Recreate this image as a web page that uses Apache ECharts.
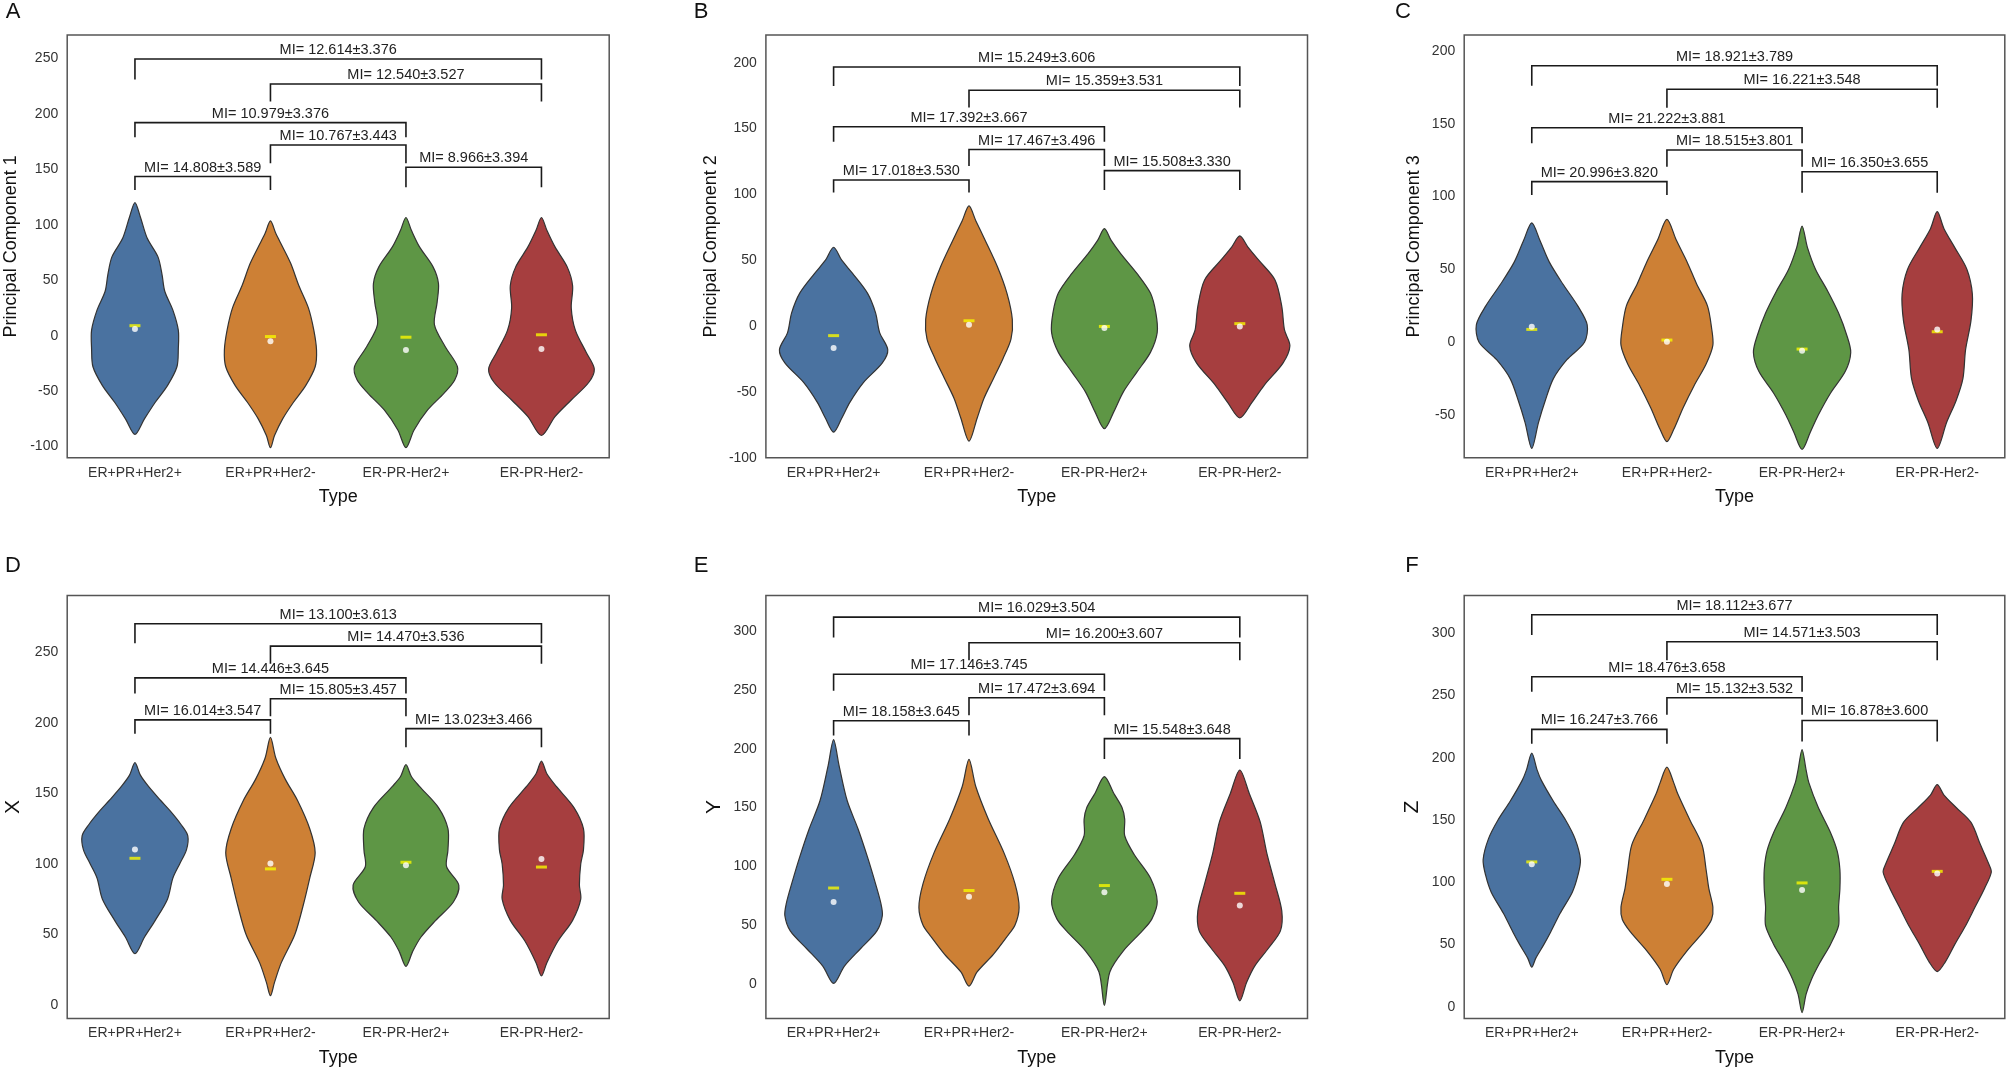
<!DOCTYPE html>
<html><head><meta charset="utf-8">
<script src="https://cdn.jsdelivr.net/npm/echarts@6/dist/echarts.min.js"></script>
<style>html,body{margin:0;padding:0;background:#fff}#c{width:2007px;height:1067px}</style>
</head><body><div id="c"></div>
<script>
// ---------------- DATA ----------------
const categories = ['ER+PR+Her2+', 'ER+PR+Her2-', 'ER-PR-Her2+', 'ER-PR-Her2-'];
const panelLetters = ['A', 'B', 'C', 'D', 'E', 'F'];
const axisTitles = ['Principal Component 1', 'Principal Component 2', 'Principal Component 3', 'X', 'Y', 'Z'];

const ticksPC1 = [-100, -50, 0, 50, 100, 150, 200, 250];
const ticksPC2 = [-100, -50, 0, 50, 100, 150, 200];
const ticksPC3 = [-50, 0, 50, 100, 150, 200];
const ticksX = [0, 50, 100, 150, 200, 250];
const ticksY = [0, 50, 100, 150, 200, 250, 300];
const ticksZ = [0, 50, 100, 150, 200, 250, 300];

const rangePC1 = [-110, 271];
const rangePC2 = [-100, 221];
const rangePC3 = [-79.3, 211];
const rangeX = [-9.7, 290.5];
const rangeY = [-29.7, 330.7];
const rangeZ = [-9.6, 330.4];

// violin outlines: [value, half-width as % of category band], from top tip to bottom tip
const shapePC1 = [
  [[120,0],[107,4],[88,9],[71,17],[55,20],[40,22],[23,28],[5,32],[-12,32],[-28,31],[-45,24],[-60,15],[-75,7],[-89,0]],
  [[103.5,0],[92,4],[80,9],[65,15],[45,21],[25,28],[5,32],[-13,34],[-28,33],[-45,26],[-60,17],[-75,9],[-90,3],[-101,0]],
  [[106.5,0],[95,4],[80,10],[62,20],[47,24],[30,23],[10,21],[-10,29],[-28,38],[-40,36],[-52,28],[-67,16],[-85,6],[-101,0]],
  [[106.5,0],[95,4],[80,10],[62,19],[45,23],[25,22],[5,25],[-15,33],[-30,39],[-42,35],[-58,22],[-73,10],[-90,0]]
];
const shapePC2 = [
  [[59.8,0],[50,6],[40,14],[25,25],[10,31],[-5,34],[-18,40],[-28,36],[-43,22],[-58,12],[-70,6],[-80.6,0]],
  [[91.2,0],[80,5],[65,12],[45,21],[25,28],[5,32],[-10,31],[-25,25],[-40,18],[-55,11],[-70,6],[-87.4,0]],
  [[74,0],[65,5],[55,12],[40,24],[25,34],[10,38],[-5,39],[-20,34],[-35,24],[-50,14],[-65,7],[-78,0]],
  [[68.4,0],[60,6],[50,14],[35,26],[15,31],[-3,33],[-15,37],[-28,32],[-45,18],[-58,9],[-69.7,0]]
];
const shapePC3 = [
  [[82,0],[70,6],[55,13],[40,23],[25,34],[12,41],[0,39],[-12,26],[-25,16],[-40,10],[-55,5],[-72.9,0]],
  [[84.4,0],[70,7],[55,15],[40,22],[25,30],[10,33],[-2,34],[-15,29],[-30,20],[-45,12],[-60,5],[-68.3,0]],
  [[79.8,0],[65,4],[50,10],[35,19],[20,27],[5,33],[-7,36],[-20,32],[-35,21],[-50,12],[-62,6],[-73.6,0]],
  [[89.7,0],[78,5],[65,13],[50,22],[33,26],[15,25],[-5,21],[-25,19],[-40,14],[-55,7],[-72.9,0]]
];
const shapeX = [
  [[171.9,0],[163,4],[155,10],[145,19],[137.6,26],[128,34],[120,39],[110,38],[100,33],[90,28],[75,24],[60,15],[48,7],[36.3,0]],
  [[189.8,0],[175,4],[160,11],[145,20],[125,29],[108,33],[90,29],[70,24],[50,18],[30,8],[16,3],[6.5,0]],
  [[170.4,0],[162,4],[155,10],[140,24],[125,31],[110,31],[98,30],[85,39],[73,35],[60,22],[48,11],[38,5],[27.4,0]],
  [[172.9,0],[164,4],[155,11],[140,24],[125,31],[110,31],[100,29],[85,28],[75,29],[60,23],[45,12],[30,4],[20.6,0]]
];
const shapeY = [
  [[207.8,0],[186,4],[156,10],[132,18],[108,25],[85,31],[68,35],[58,36],[45,32],[30,20],[15,8],[0.3,0]],
  [[191,0],[168,5],[141,14],[111,26],[85,34],[65,37],[50,34],[40,28],[25,18],[10,6],[-2,0]],
  [[176.4,0],[162,7],[150,13],[140,15],[126,15],[110,22],[90,34],[70,39],[55,35],[45,28],[28,14],[10,4],[-18.5,0]],
  [[182,0],[162,7],[138,15],[111,20],[85,26],[62,31],[45,30],[30,21],[15,11],[1,5],[-14.6,0]]
];
const shapeZ = [
  [[203.7,0],[190,4],[182,7],[165,16],[150,25],[135,32],[118,36],[105,34],[92,30],[75,21],[60,14],[50,9],[39,3],[31.8,0]],
  [[192.4,0],[180,5],[171,8],[150,17],[130,26],[110,29],[95,31],[80,34],[70,33],[60,27],[45,15],[30,5],[17.7,0]],
  [[206.5,0],[190,3],[180,5],[160,12],[140,21],[125,26],[110,28],[95,28],[80,27],[65,27],[50,21],[35,13],[22,7],[10,3],[-4.8,0]],
  [[178.3,0],[170,5],[160,14],[148,25],[130,32],[115,38],[108,40],[95,35],[80,28],[65,21],[50,13],[36,6],[28.2,0]]
];

const meanPC1 = [9, -0.8, -1.4, 0.8];
const medianPC1 = [6, -5, -13, -12];
const meanPC2 = [-7.3, 4, -0.3, 1.8];
const medianPC2 = [-16.7, 1, -1.5, -0.3];
const meanPC3 = [8.8, 1.5, -4.7, 7.2];
const medianPC3 = [10.7, 0.4, -5.8, 8.8];
const meanX = [104, 96.5, 101.2, 97.8];
const medianX = [110.2, 100.3, 99, 103.5];
const meanY = [81.5, 79.4, 83.6, 77];
const medianY = [69.6, 74, 77.9, 66.6];
const meanZ = [116.3, 102.3, 99.4, 108.7];
const medianZ = [114.4, 98.6, 93.8, 107];

const bracketPairs = [[0,1],[1,2],[2,3],[0,2],[1,3],[0,3]];
const bracketLinePC1 = [143.4, 171.9, 151.8, 192, 226.9, 249.4];
const bracketLegPC1 = [131.4, 155.4, 133.8, 178.8, 211, 231];
const miPC1 = ['MI= 14.808±3.589','MI= 10.767±3.443','MI= 8.966±3.394','MI= 10.979±3.376','MI= 12.540±3.527','MI= 12.614±3.376'];
const bracketLinePC2 = [110.9, 134, 118, 151.3, 179, 196.7];
const bracketLegPC2 = [101.3, 121.5, 103.3, 140, 165.9, 182.3];
const miPC2 = ['MI= 17.018±3.530','MI= 17.467±3.496','MI= 15.508±3.330','MI= 17.392±3.667','MI= 15.359±3.531','MI= 15.249±3.606'];
const bracketLinePC3 = [110.3, 132, 117.1, 147.3, 173.7, 189.9];
const bracketLegPC3 = [101.1, 120.6, 102.7, 136.6, 161.1, 176.2];
const miPC3 = ['MI= 20.996±3.820','MI= 18.515±3.801','MI= 16.350±3.655','MI= 21.222±3.881','MI= 16.221±3.548','MI= 18.921±3.789'];
const bracketLineX = [202.2, 217.2, 196, 232, 254.5, 270.4];
const bracketLegX = [192.3, 204.7, 182.8, 220.9, 242, 256.5];
const miX = ['MI= 16.014±3.547','MI= 15.805±3.457','MI= 13.023±3.466','MI= 14.446±3.645','MI= 14.470±3.536','MI= 13.100±3.613'];
const bracketLineY = [223.9, 243.6, 208.7, 263.6, 290.4, 312.2];
const bracketLegY = [211.3, 228.7, 191.3, 249.6, 275.5, 294.9];
const miY = ['MI= 18.158±3.645','MI= 17.472±3.694','MI= 15.548±3.648','MI= 17.146±3.745','MI= 16.200±3.607','MI= 16.029±3.504'];
const bracketLineZ = [222.8, 248.2, 229.9, 265.1, 293.2, 314.9];
const bracketLegZ = [211.3, 234.6, 213, 253, 278.3, 298.6];
const miZ = ['MI= 16.247±3.766','MI= 15.132±3.532','MI= 16.878±3.600','MI= 18.476±3.658','MI= 14.571±3.503','MI= 18.112±3.677'];

// ---------------- LAYOUT / STYLE ----------------
const FONT = "'Liberation Sans', Arial, Helvetica, sans-serif";
const violinColors = ['#4a72a0', '#cd8035', '#5e9645', '#a63e3f'];
const panels = [
  {ticks: ticksPC1, range: rangePC1, shape: shapePC1, mean: meanPC1, median: medianPC1, line: bracketLinePC1, leg: bracketLegPC1, mi: miPC1,
   grid: {left: 67.2, top: 35, width: 542, height: 422.7}, nameGap: 47, nameSize: 18, letter: [13, 12]},
  {ticks: ticksPC2, range: rangePC2, shape: shapePC2, mean: meanPC2, median: medianPC2, line: bracketLinePC2, leg: bracketLegPC2, mi: miPC2,
   grid: {left: 765.9, top: 35, width: 541.6, height: 422.7}, nameGap: 46, nameSize: 18, letter: [701, 12]},
  {ticks: ticksPC3, range: rangePC3, shape: shapePC3, mean: meanPC3, median: medianPC3, line: bracketLinePC3, leg: bracketLegPC3, mi: miPC3,
   grid: {left: 1464.2, top: 35, width: 540.6, height: 422.7}, nameGap: 41, nameSize: 18, letter: [1403, 12]},
  {ticks: ticksX, range: rangeX, shape: shapeX, mean: meanX, median: medianX, line: bracketLineX, leg: bracketLegX, mi: miX,
   grid: {left: 67.2, top: 595.4, width: 542, height: 423.2}, nameGap: 43, nameSize: 21, letter: [13, 566]},
  {ticks: ticksY, range: rangeY, shape: shapeY, mean: meanY, median: medianY, line: bracketLineY, leg: bracketLegY, mi: miY,
   grid: {left: 765.9, top: 595.4, width: 541.6, height: 423.2}, nameGap: 41, nameSize: 21, letter: [701, 566]},
  {ticks: ticksZ, range: rangeZ, shape: shapeZ, mean: meanZ, median: medianZ, line: bracketLineZ, leg: bracketLegZ, mi: miZ,
   grid: {left: 1464.2, top: 595.4, width: 540.6, height: 423.2}, nameGap: 41, nameSize: 21, letter: [1412, 566]}
];

const grids = [], xAxes = [], yAxes = [], series = [], graphics = [];

panels.forEach((p, i) => {
  grids.push(Object.assign({show: true, borderColor: '#555', borderWidth: 1.5, backgroundColor: '#fff', outerBoundsMode: 'none', containLabel: false}, p.grid));
  xAxes.push({
    gridIndex: i, type: 'category', data: categories,
    axisLine: {show: false}, axisTick: {show: false}, splitLine: {show: false},
    axisLabel: {interval: 0, fontSize: 14, color: '#333', margin: 8, fontFamily: FONT},
    name: 'Type', nameLocation: 'middle', nameGap: 30,
    nameTextStyle: {fontSize: 18, color: '#111', fontFamily: FONT}
  });
  yAxes.push({
    gridIndex: i, type: 'value', min: p.range[0], max: p.range[1],
    axisLine: {show: false}, axisTick: {show: false}, splitLine: {show: false},
    axisLabel: {customValues: p.ticks, fontSize: 14, color: '#333', margin: 9, fontFamily: FONT},
    name: axisTitles[i], nameLocation: 'middle', nameGap: p.nameGap,
    nameTextStyle: {fontSize: p.nameSize, color: '#111', fontFamily: FONT}
  });
  // violins
  series.push({
    type: 'custom', xAxisIndex: i, yAxisIndex: i, clip: false, z: 2,
    data: categories.map((c, k) => [k, p.mean[k]]),
    encode: {x: 0, y: 1},
    renderItem: (params, api) => {
      const ci = api.value(0);
      const prof = p.shape[params.dataIndex];
      const band = api.size([1, 0])[0];
      const right = [], left = [];
      prof.forEach(([v, w]) => {
        const c = api.coord([ci, v]);
        const dx = w / 100 * band;
        right.push([c[0] + dx, c[1]]);
        if (w > 0) left.push([c[0] - dx, c[1]]);
      });
      return {
        type: 'polygon',
        shape: {points: right.concat(left.reverse()), smooth: 0.3},
        style: {fill: violinColors[ci], stroke: '#333', lineWidth: 1.2}
      };
    }
  });
  // mean bars (yellow)
  series.push({
    type: 'scatter', xAxisIndex: i, yAxisIndex: i, z: 3, silent: true,
    symbol: 'rect', symbolSize: [11, 3],
    itemStyle: {color: '#f7f700'},
    data: p.mean
  });
  // median dots (white)
  series.push({
    type: 'scatter', xAxisIndex: i, yAxisIndex: i, z: 4, silent: true,
    symbol: 'circle', symbolSize: 6,
    itemStyle: {color: '#ffffff'},
    data: p.median
  });
  // brackets with MI labels
  series.push({
    type: 'custom', xAxisIndex: i, yAxisIndex: i, clip: false, z: 5,
    data: bracketPairs.map((bp, k) => [bp[0], bp[1], p.line[k], p.leg[k]]),
    encode: {x: [0, 1], y: [2, 3]},
    renderItem: (params, api) => {
      const a = api.coord([api.value(0), api.value(2)]);
      const b = api.coord([api.value(1), api.value(2)]);
      const aL = api.coord([api.value(0), api.value(3)]);
      const bL = api.coord([api.value(1), api.value(3)]);
      return {
        type: 'group',
        children: [
          {type: 'polyline', shape: {points: [[a[0], aL[1]], a, b, [b[0], bL[1]]]},
           style: {stroke: '#1a1a1a', lineWidth: 1.6, fill: null}},
          {type: 'text', x: (a[0] + b[0]) / 2, y: a[1] - 9,
           style: {text: p.mi[params.dataIndex], fontSize: 14.5, fontFamily: FONT, fill: '#222',
                   align: 'center', verticalAlign: 'middle'}}
        ]
      };
    }
  });
  graphics.push({
    type: 'text', x: p.letter[0], y: p.letter[1],
    style: {text: panelLetters[i], fontSize: 22, fontFamily: FONT, fill: '#111', align: 'center', verticalAlign: 'middle'}
  });
});

const chart = echarts.init(document.getElementById('c'), null, {renderer: 'canvas'});
chart.setOption({
  animation: false,
  backgroundColor: '#fff',
  grid: grids, xAxis: xAxes, yAxis: yAxes, series: series, graphic: graphics
});
</script>
</body></html>
